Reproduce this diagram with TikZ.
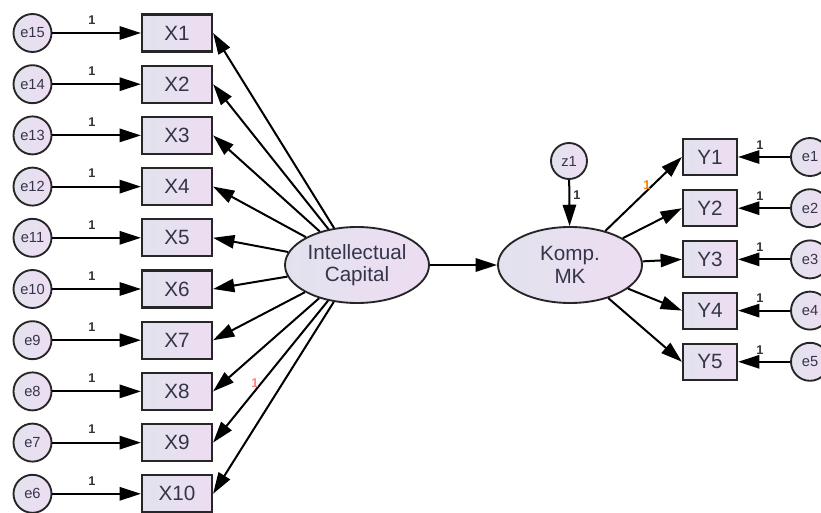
\documentclass[tikz,border=0pt]{standalone}
\usepackage{fontspec}
\setmainfont{Liberation Sans}
\usetikzlibrary{arrows.meta,shapes.geometric}
\definecolor{txt}{HTML}{34344A}
\definecolor{fillL}{HTML}{E2E2EE}
\definecolor{fillR}{HTML}{EEDDF2}
\tikzset{
  obs/.style={draw=black!85, line width=1.6pt, left color=fillL, right color=fillR, inner sep=0pt, text=txt, font=\fontsize{15.5}{15.5}\selectfont},
  xbox/.style={obs, rectangle, minimum width=52.5pt, minimum height=27.75pt},
  ybox/.style={obs, rectangle, minimum width=40.5pt, minimum height=27pt},
  err/.style={obs, circle, minimum size=28.5pt, line width=1.4pt, font=\fontsize{11}{11}\selectfont},
  lat/.style={obs, ellipse, minimum width=108pt, minimum height=57pt, line width=1.4pt, font=\fontsize{15.5}{17}\selectfont, align=center},
  path/.style={draw=black, line width=1.5pt, -{Triangle[length=16pt,width=10pt]}},
  lab/.style={font=\fontsize{9.5}{9.5}\selectfont\bfseries, text=black!80, inner sep=0pt}
}
\begin{document}
\begin{tikzpicture}[x=0.75pt,y=-0.75pt]
\useasboundingbox (0,0) rectangle (821,513);
% latent
\node[lat] (IC) at (357,265) {Intellectual\\Capital};
\node[lat] (KM) at (570,265) {Komp.\\MK};
\node[err, minimum size=27pt] (z1) at (569,161) {z1};
% X indicators
\foreach \i/\e in {1/15,2/14,3/13,4/12,5/11,6/10,7/9,8/8,9/7,10/6}{
  \pgfmathsetmacro{\yy}{33+(\i-1)*51.2}
  \node[xbox] (X\i) at (177,\yy) {X\i};
  \node[err] (e\e) at (32.5,\yy) {e\e};
  \draw[path] (e\e) -- (X\i);
  \node[lab] at (92,\yy-13) {1};
  \draw[path] (IC) -- (X\i.east);
}
% Y indicators
\foreach \j in {1,...,5}{
  \pgfmathsetmacro{\yy}{157+(\j-1)*51.2}
  \node[ybox] (Y\j) at (710,\yy) {Y\j};
  \node[err] (e\j) at (810,\yy) {e\j};
  \draw[path] (e\j) -- (Y\j);
  \node[lab] at (760,\yy-12) {1};
  \draw[path] (KM) -- (Y\j.west);
}
\draw[path] (IC) -- (KM);
\draw[path] (z1) -- (KM);
\node[lab] at (577,195) {1};
\node[lab, text=orange!70!brown] at (647,185) {1};
\node[lab, text=red!50!white] at (255,383) {1};
\end{tikzpicture}
\end{document}
